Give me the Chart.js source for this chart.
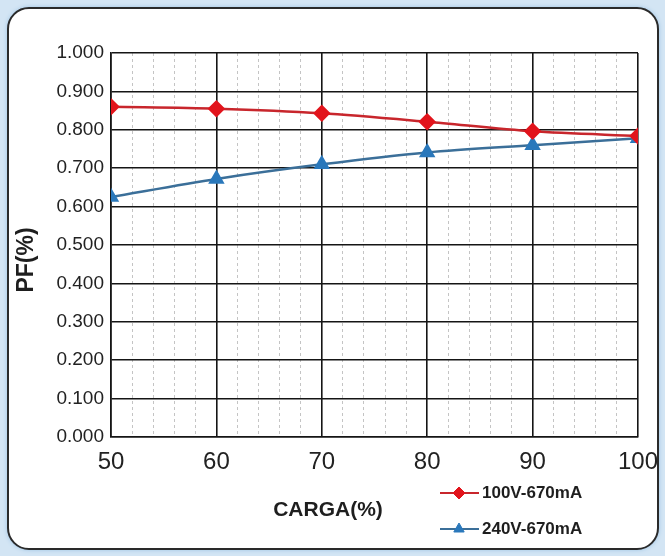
<!DOCTYPE html>
<html>
<head>
<meta charset="utf-8">
<script src="https://cdn.jsdelivr.net/npm/chart.js@4.4.1/dist/chart.umd.min.js"></script>
<style>
  html, body { margin: 0; padding: 0; }
  body { width: 665px; height: 556px; background: #d3e5f4; position: relative; overflow: hidden; }
  #frame {
    position: absolute; left: 7px; top: 7px; width: 648px; height: 539px;
    border: 2px solid #2a2a2a; border-radius: 22px; background: #fff;
    box-shadow: 0 0 4px #9fc4e4;
  }
  #wrap { position: absolute; left: 0; top: 0; width: 665px; height: 556px; }
</style>
</head>
<body>
<div id="frame"></div>
<div id="wrap"><canvas id="myChart" width="665" height="556"></canvas></div>
<script>
// data
const loads = [50, 60, 70, 80, 90, 100];
const pf100V = [0.860, 0.855, 0.843, 0.821, 0.796, 0.784];
const pf240V = [0.625, 0.672, 0.710, 0.741, 0.760, 0.778];
const seriesNames = ['100V-670mA', '240V-670mA'];
const xTitle = 'CARGA(%)';
const yTitle = 'PF(%)';

const redLine = '#c8262c';
const redMark = '#e2141c';
const blueLine = '#3b6f99';
const blueMark = '#2a78bb';
const fontFam = '"Liberation Sans", Arial, sans-serif';

// legend and axis titles drawn by hand, the legend has line + marker
const extras = {
  id: 'extras',
  afterDraw(chart) {
    const ctx = chart.ctx;
    ctx.save();
    ctx.fillStyle = '#1e1e1e';
    ctx.font = 'bold 21px ' + fontFam;
    ctx.textAlign = 'center';
    ctx.textBaseline = 'middle';
    ctx.fillText(xTitle, 328, 510);

    ctx.save();
    ctx.translate(27, 260);
    ctx.rotate(-Math.PI / 2);
    ctx.font = 'bold 23px ' + fontFam;
    ctx.fillText(yTitle, 0, 0);
    ctx.restore();

    const rows = [493, 529];
    const cols = [[redLine, redMark, 'rectRot'], [blueLine, blueMark, 'triangle']];
    rows.forEach((y, i) => {
      ctx.strokeStyle = cols[i][0];
      ctx.lineWidth = 2;
      ctx.beginPath();
      ctx.moveTo(440, y);
      ctx.lineTo(479, y);
      ctx.stroke();
      ctx.fillStyle = cols[i][1];
      ctx.strokeStyle = cols[i][1];
      ctx.lineWidth = 1;
      Chart.helpers.drawPoint(ctx, {pointStyle: cols[i][2], radius: 6, borderWidth: 1}, 459, y);
      ctx.fillStyle = '#1e1e1e';
      ctx.font = 'bold 17px ' + fontFam;
      ctx.textAlign = 'left';
      ctx.fillText(seriesNames[i], 482, y);
    });
    ctx.restore();
  }
};

const data = {
  datasets: [{
    label: seriesNames[0],
    data: loads.map((x, i) => ({x: x, y: pf100V[i]})),
    borderColor: redLine,
    backgroundColor: redMark,
    pointBackgroundColor: redMark,
    pointBorderColor: redMark,
    pointStyle: 'rectRot',
    pointRadius: 7,
    borderWidth: 2.5,
    tension: 0.3
  }, {
    label: seriesNames[1],
    data: loads.map((x, i) => ({x: x, y: pf240V[i]})),
    borderColor: blueLine,
    backgroundColor: blueMark,
    pointBackgroundColor: blueMark,
    pointBorderColor: blueMark,
    pointStyle: 'triangle',
    pointRadius: 7,
    borderWidth: 2.5,
    tension: 0.3
  }]
};

const config = {
  type: 'line',
  data,
  plugins: [extras],
  options: {
    responsive: false,
    animation: false,
    layout: { padding: { left: 10, right: 27, top: 53, bottom: 79 } },
    plugins: { legend: { display: false }, tooltip: { enabled: false } },
    scales: {
      x: {
        type: 'linear',
        min: 50,
        max: 100,
        afterFit: (s) => { s.height = 40; s.paddingLeft = 0; s.paddingRight = 0; },
        ticks: {
          stepSize: 2,
          autoSkip: false,
          maxRotation: 0,
          padding: 11,
          color: '#222',
          font: { size: 24, family: fontFam },
          callback: (v) => (v % 10 === 0 ? v : '')
        },
        grid: {
          drawTicks: false,
          color: (c) => (c.tick && c.tick.value % 10 !== 0 ? '#c4c4c4' : '#151515'),
          lineWidth: (c) => (c.tick && c.tick.value % 10 !== 0 ? 1 : 1.6)
        },
        border: {
          color: '#151515',
          width: 1.6,
          dash: (c) => (c.tick && c.tick.value % 10 !== 0 ? [3, 3] : [])
        }
      },
      y: {
        min: 0,
        max: 1,
        afterFit: (s) => { s.width = 101; s.paddingTop = 0; s.paddingBottom = 0; },
        ticks: {
          stepSize: 0.1,
          padding: 7,
          color: '#222',
          font: { size: 19, family: fontFam },
          callback: (v) => v.toFixed(3)
        },
        grid: { drawTicks: false, color: '#151515', lineWidth: 1.6 },
        border: { color: '#151515', width: 1.6 }
      }
    }
  }
};

const myChart = new Chart(document.getElementById('myChart'), config);
</script>
</body>
</html>
